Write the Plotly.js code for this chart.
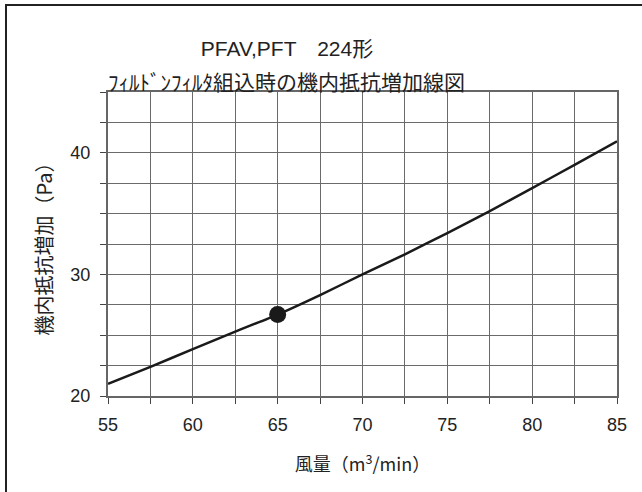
<!DOCTYPE html>
<html><head><meta charset="utf-8">
<script src="https://cdn.plot.ly/plotly-3.0.1.min.js"></script>
<style>
html,body{margin:0;padding:0;background:#fff;overflow:hidden}
#chart{width:642px;height:492px}
#frame{position:absolute;left:5px;top:4px;width:700px;height:600px;border-left:2px solid #222;border-top:2px solid #222;pointer-events:none}
</style></head><body>
<div id="chart"></div><div id="frame"></div>
<script>
const airflow = [55, 57.5, 60, 62.5, 65, 67.5, 70, 72.5, 75, 77.5, 80, 82.5, 85];
const pressureRise = [21.0, 22.4, 23.85, 25.3, 26.7, 28.3, 30.0, 31.65, 33.4, 35.2, 37.1, 39.0, 40.95];
const ratedAirflow = [65];
const ratedPressure = [26.7];
const titleLine1 = 'PFAV,PFT\u3000224形';
const titleLine2 = 'ﾌｨﾙﾄﾞﾝﾌｨﾙﾀ組込時の機内抵抗増加線図';
const xTitle = '風量（m<sup>3</sup>/min）';
const yTitle = '機内抵抗増加（Pa）';

const FONT = 'Liberation Sans, Arial, Noto Sans CJK JP, sans-serif';
const CJK = 'Noto Sans CJK JP, sans-serif';
const traces = [
  {x: airflow, y: pressureRise, type: 'scatter', mode: 'lines',
   line: {color: '#1a1a1a', width: 2.5, shape: 'spline', smoothing: 0.5}, showlegend: false, hoverinfo: 'skip'},
  {x: ratedAirflow, y: ratedPressure, type: 'scatter', mode: 'markers',
   marker: {color: '#1a1a1a', size: 17}, showlegend: false, hoverinfo: 'skip'}
];
const axisCommon = {
  showgrid: true, gridcolor: '#6a6a6a', gridwidth: 1,
  zeroline: false, showline: true, linecolor: '#666', linewidth: 2, mirror: true,
  ticks: 'outside', ticklen: 6, tickcolor: '#444', tickwidth: 1,
  tickfont: {family: FONT, size: 18, color: '#222'}
};
const layout = {
  width: 642, height: 492,
  paper_bgcolor: '#fff', plot_bgcolor: '#fff',
  margin: {l: 108, r: 25, t: 92, b: 96},
  font: {family: FONT, color: '#222'},
  title: {text: titleLine1, font: {family: FONT, size: 21, color: '#222'},
          xref: 'container', x: 287/642, xanchor: 'center',
          yref: 'container', y: 1 - 49/492, yanchor: 'middle'},
  annotations: [{text: titleLine2, xref: 'paper', x: (286-108)/509, xanchor: 'center',
                 yref: 'paper', y: 1, yanchor: 'middle', yshift: 11, showarrow: false,
                 font: {family: CJK, size: 21, color: '#222'}}],
  xaxis: Object.assign({}, axisCommon, {
    range: [55, 85], tick0: 55, dtick: 5,
    minor: {dtick: 2.5, showgrid: true, gridcolor: '#6a6a6a', gridwidth: 1, ticks: 'outside', ticklen: 6, tickcolor: '#444'},
    ticklabelstandoff: 5,
    title: {text: xTitle, standoff: 25, font: {family: CJK, size: 18, color: '#222'}}
  }),
  yaxis: Object.assign({}, axisCommon, {
    range: [20, 45], tick0: 20, dtick: 10,
    minor: {dtick: 2.5, showgrid: true, gridcolor: '#6a6a6a', gridwidth: 1, ticks: 'outside', ticklen: 6, tickcolor: '#444'},
    ticklabelstandoff: 6,
    title: {text: yTitle, standoff: 12, font: {family: CJK, size: 20, color: '#222'}}
  })
};
Plotly.newPlot('chart', traces, layout, {displayModeBar: false, staticPlot: true});
</script>
</body></html>
